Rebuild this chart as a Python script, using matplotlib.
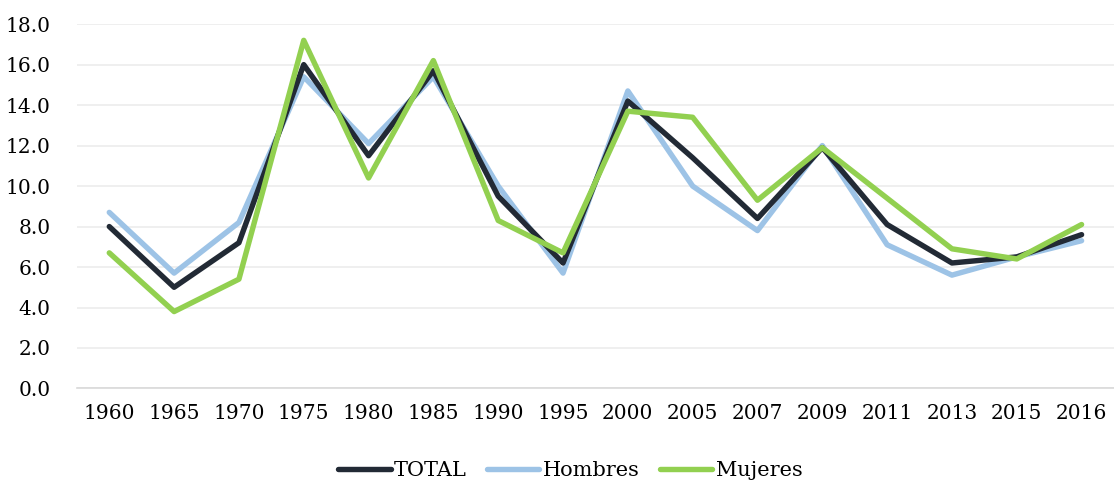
import matplotlib.pyplot as plt

years = ['1960', '1965', '1970', '1975', '1980', '1985', '1990', '1995',
         '2000', '2005', '2007', '2009', '2011', '2013', '2015', '2016']
total = [8.0, 5.0, 7.2, 16.0, 11.5, 15.7, 9.5, 6.2, 14.2, 11.4, 8.4, 11.9, 8.1, 6.2, 6.5, 7.6]
hombres = [8.7, 5.7, 8.2, 15.4, 12.1, 15.4, 10.0, 5.7, 14.7, 10.0, 7.8, 12.0, 7.1, 5.6, 6.5, 7.3]
mujeres = [6.7, 3.8, 5.4, 17.2, 10.4, 16.2, 8.3, 6.7, 13.7, 13.4, 9.3, 11.9, 9.4, 6.9, 6.4, 8.1]

plt.rcParams['font.family'] = ['DejaVu Serif']

fig = plt.figure(figsize=(11.14, 4.83), dpi=100)
ax = fig.add_axes([0.069, 0.1957, 0.931, 0.7543])

x = range(len(years))
ax.plot(x, total, color='#222a35', lw=3.9, label='TOTAL', solid_capstyle='round', zorder=3)
ax.plot(x, hombres, color='#9dc3e6', lw=3.9, label='Hombres', solid_capstyle='round', zorder=2)
ax.plot(x, mujeres, color='#92d050', lw=3.9, label='Mujeres', solid_capstyle='round', zorder=4)

ax.set_xlim(-0.5, len(years) - 0.5)
ax.set_ylim(0, 18)
ax.set_yticks([i * 2 for i in range(10)])
ax.set_yticklabels([f'{i * 2:.1f}' for i in range(10)])
ax.set_xticks(list(x))
ax.set_xticklabels(years)
ax.tick_params(length=0, labelsize=14.5, colors='#000000')
ax.tick_params(axis='x', pad=11)
ax.tick_params(axis='y', pad=19)

ax.grid(axis='y', color='#ececec', lw=1.2)
ax.set_axisbelow(True)
for s in ['top', 'right', 'left']:
    ax.spines[s].set_visible(False)
ax.spines['bottom'].set_color('#d9d9d9')
ax.spines['bottom'].set_linewidth(1.2)

fig.legend(loc='center', bbox_to_anchor=(0.512, 0.025), ncol=3, frameon=False,
           fontsize=15, handlelength=2.5, handletextpad=0.15, columnspacing=1.0)

fig.savefig('out.png', dpi=100)
